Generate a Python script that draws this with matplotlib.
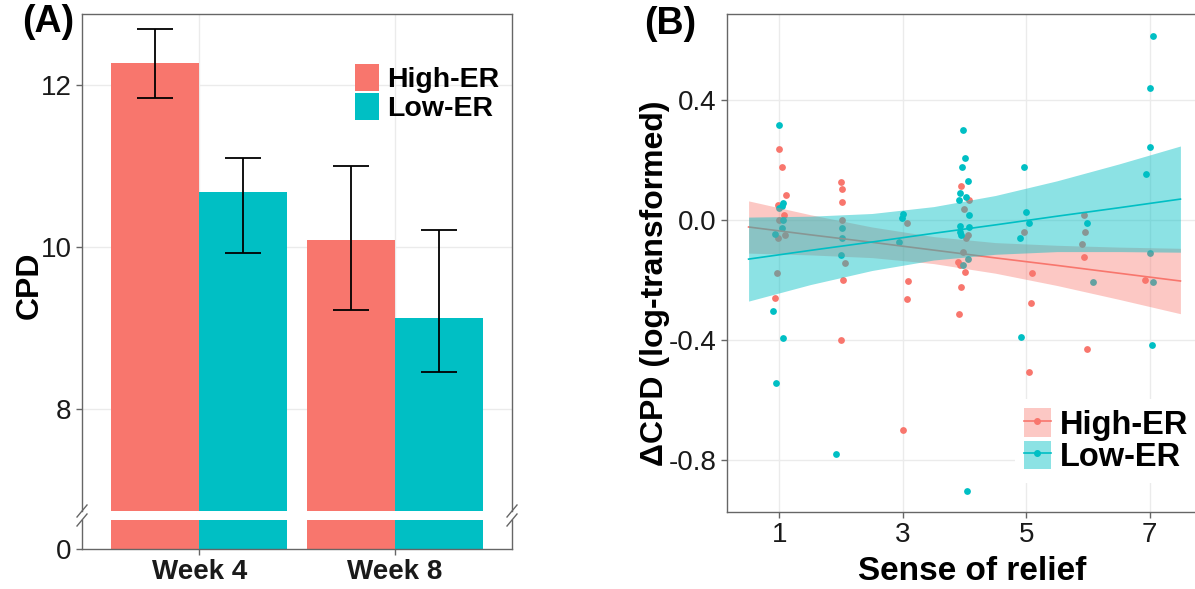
import matplotlib
matplotlib.use('Agg')
import matplotlib.pyplot as plt
from matplotlib.patches import Patch
from matplotlib.lines import Line2D
import numpy as np

plt.rcParams['font.family'] = ['Liberation Sans', 'DejaVu Sans']

RED = '#F8766D'
TEAL = '#00BFC4'
GRID = '#EBEBEB'
BORDER = '#666666'

# ---- panel A data ----
weeks = ['Week 4', 'Week 8']
groups = ['High-ER', 'Low-ER']
cpd_high = [12.27, 10.09]
cpd_low = [10.68, 9.12]
high_err_lo = [11.84, 9.22]
high_err_hi = [12.69, 11.00]
low_err_lo = [9.93, 8.46]
low_err_hi = [11.10, 10.21]

# ---- panel B data (jittered points) ----
high_x = [0.99, 1.04, 1.10, 0.97, 1.07, 1.00, 0.97, 1.09, 0.96, 0.93,
          1.99, 2.02, 2.02, 2.02, 2.07, 2.03, 1.99,
          3.06, 3.08, 3.06, 3.01,
          3.94, 4.08, 3.99, 4.02, 4.05, 3.97, 3.90, 3.92, 4.00, 3.95, 3.91,
          4.96, 5.09, 5.08, 5.05,
          5.93, 5.96, 5.91, 5.94, 5.98,
          6.93]
high_y = [0.236, 0.177, 0.084, 0.052, 0.018, 0.000, -0.059, -0.049, -0.176, -0.258,
          0.127, 0.103, 0.061, 0.002, -0.144, -0.198, -0.400,
          -0.009, -0.204, -0.263, -0.700,
          0.113, 0.067, 0.036, -0.058, -0.050, -0.106, -0.139, -0.148, -0.174, -0.223, -0.314,
          -0.040, -0.177, -0.276, -0.506,
          0.017, -0.038, -0.079, -0.124, -0.428,
          -0.199]
low_x = [1.00, 1.05, 1.04, 1.00, 1.06, 1.04, 0.92, 0.90, 1.05, 0.95,
         2.01, 2.02, 1.99, 1.91,
         3.00, 2.99, 2.94,
         3.98, 4.01, 3.96, 4.06, 3.92, 3.91, 4.03, 4.08, 3.92, 4.08, 3.93, 3.95, 4.05, 3.97, 4.04,
         4.96, 5.00, 5.05, 4.90, 4.91,
         5.98, 6.08,
         7.06, 7.00, 7.01, 6.95, 7.00, 7.05, 7.04]
low_y = [0.317, 0.056, 0.048, 0.042, 0.000, -0.026, -0.047, -0.304, -0.392, -0.544,
         -0.026, -0.060, -0.117, -0.778,
         0.020, 0.006, -0.072,
         0.302, 0.206, 0.176, 0.131, 0.091, 0.067, 0.078, 0.017, -0.020, -0.024, -0.041, -0.050, -0.131, -0.149, -0.902,
         0.177, 0.027, -0.010, -0.060, -0.389,
         -0.011, -0.206,
         0.613, 0.439, 0.243, 0.154, -0.111, -0.207, -0.417]

# fitted lines and confidence bands
band_x = [0.5, 1.5, 2.5, 3.5, 4.5, 5.5, 6.5, 7.5]
high_fit = [-0.023, -0.049, -0.074, -0.100, -0.126, -0.151, -0.177, -0.203]
high_lo = [-0.110, -0.116, -0.125, -0.145, -0.177, -0.218, -0.264, -0.312]
high_hi = [0.064, 0.018, -0.023, -0.055, -0.075, -0.084, -0.090, -0.094]
low_fit = [-0.130, -0.101, -0.073, -0.044, -0.016, 0.013, 0.041, 0.070]
low_lo = [-0.270, -0.215, -0.168, -0.133, -0.114, -0.105, -0.105, -0.107]
low_hi = [0.010, 0.013, 0.022, 0.045, 0.082, 0.131, 0.187, 0.247]

W, H = 1195, 589
fig = plt.figure(figsize=(W / 100, H / 100), dpi=100)


def px_rect(x0, y0, x1, y1):
    return [x0 / W, 1 - y1 / H, (x1 - x0) / W, (y1 - y0) / H]


def style_axes(ax):
    for s in ax.spines.values():
        s.set_color(BORDER)
        s.set_linewidth(1.0)
    ax.tick_params(colors=BORDER, labelcolor='#1a1a1a', labelsize=20, length=4, width=1)
    ax.set_axisbelow(True)


# ---- panel A: broken axis bar chart ----
ax_top = fig.add_axes(px_rect(82, 14, 512, 511))
ax_bot = fig.add_axes(px_rect(82, 520, 512, 549))

xpos = np.arange(len(weeks)) + 1
bw = 0.45
for ax in (ax_top, ax_bot):
    style_axes(ax)
    ax.bar(xpos - bw / 2, cpd_high, width=bw, color=RED, label=groups[0], zorder=2)
    ax.bar(xpos + bw / 2, cpd_low, width=bw, color=TEAL, label=groups[1], zorder=2)
    ax.set_xlim(0.4, 2.6)
    ax.grid(True, color=GRID, linewidth=1.0, zorder=0)

for xs, mid, lo, hi in [(xpos - bw / 2, cpd_high, high_err_lo, high_err_hi),
                        (xpos + bw / 2, cpd_low, low_err_lo, low_err_hi)]:
    mid = np.array(mid)
    ax_top.errorbar(xs, mid, yerr=[mid - np.array(lo), np.array(hi) - mid], fmt='none',
                    ecolor='black', elinewidth=1.3, capsize=13, capthick=1.3, zorder=3)

ax_top.set_ylim(6.74, 12.88)
ax_top.set_yticks([8, 10, 12])
ax_top.set_xticks(xpos)
ax_top.tick_params(axis='x', bottom=False, labelbottom=False)
ax_top.spines['bottom'].set_visible(False)
ax_top.legend(loc='upper right', bbox_to_anchor=(0.984, 0.91), frameon=False,
              prop={'weight': 'bold', 'size': 20.5}, handlelength=0.84, handleheight=1.05,
              handletextpad=0.3, labelspacing=0.0, borderaxespad=0.1, borderpad=0.1)

ax_bot.set_ylim(0, 1)
ax_bot.set_yticks([0])
ax_bot.set_xticks(xpos)
ax_bot.set_xticklabels(weeks, fontweight='bold')
ax_bot.spines['top'].set_visible(False)
ax_bot.grid(False)

# break marks on both side spines
for xb in (82, 512):
    for yb in (511, 520):
        fig.add_artist(Line2D([(xb - 5) / W, (xb + 5) / W], [1 - (yb + 6) / H, 1 - (yb - 6) / H],
                              color=BORDER, linewidth=1.0))

fig.text(30 / W, 1 - 285 / H, 'CPD', rotation=90, ha='center', va='center',
         fontsize=23, fontweight='bold')
fig.text(48 / W, 1 - 22 / H, '(A)', ha='center', va='center', fontsize=27, fontweight='bold')

# ---- panel B: scatter with linear fits ----
axb = fig.add_axes(px_rect(727, 14, 1202, 512))
style_axes(axb)
axb.grid(True, color=GRID, linewidth=1.0, zorder=0)
axb.scatter(high_x, high_y, s=24, color=RED, linewidths=0, zorder=2)
axb.scatter(low_x, low_y, s=24, color=TEAL, linewidths=0, zorder=2)
axb.fill_between(band_x, high_lo, high_hi, color=RED, alpha=0.4, linewidth=0, zorder=3)
axb.plot(band_x, high_fit, color=RED, linewidth=1.2, zorder=3)
axb.fill_between(band_x, low_lo, low_hi, color=TEAL, alpha=0.45, linewidth=0, zorder=3)
axb.plot(band_x, low_fit, color=TEAL, linewidth=1.2, zorder=3)
axb.set_xlim(0.15, 7.85)
axb.set_ylim(-0.973, 0.687)
axb.set_xticks([1, 3, 5, 7])
axb.set_yticks([0.4, 0.0, -0.4, -0.8])
axb.set_yticklabels(['0.4', '0.0', '-0.4', '-0.8'])
axb.spines['right'].set_visible(False)

hnd = [(Patch(facecolor=RED, alpha=0.4, linewidth=0),
        Line2D([], [], color=RED, marker='o', markersize=4, linewidth=1.2)),
       (Patch(facecolor=TEAL, alpha=0.45, linewidth=0),
        Line2D([], [], color=TEAL, marker='o', markersize=4, linewidth=1.2))]
leg = axb.legend(hnd, groups, loc='lower right', bbox_to_anchor=(1.027, 0.026),
                 prop={'weight': 'bold', 'size': 23.5}, handlelength=0.8, handleheight=0.95,
                 handletextpad=0.3, labelspacing=0.0, borderpad=0.3, frameon=True,
                 fancybox=False, edgecolor='none', framealpha=1.0)

fig.text(655 / W, 1 - 283 / H, '\u0394CPD (log-transformed)', rotation=90, ha='center',
         va='center', fontsize=23, fontweight='bold')
fig.text(972 / W, 1 - 572 / H, 'Sense of relief', ha='center', va='center',
         fontsize=24, fontweight='bold')
fig.text(670 / W, 1 - 24 / H, '(B)', ha='center', va='center', fontsize=27, fontweight='bold')

fig.savefig('out.png', dpi=100)
